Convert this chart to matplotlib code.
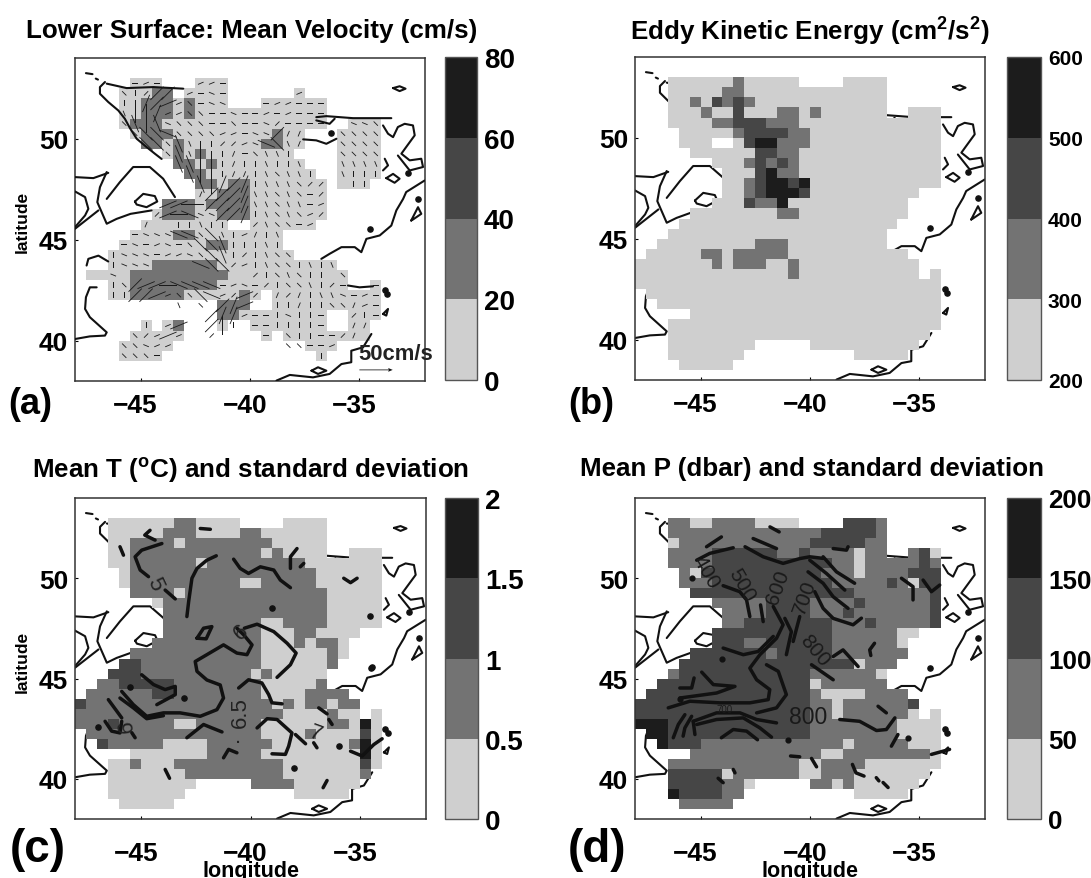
import numpy as np
import matplotlib
matplotlib.use('Agg')
import matplotlib.pyplot as plt
from matplotlib.colors import ListedColormap, BoundaryNorm
from matplotlib.transforms import ScaledTranslation

plt.rcParams['font.family'] = ['Liberation Sans', 'DejaVu Sans']
plt.rcParams['font.weight'] = 'bold'
plt.rcParams['mathtext.fontset'] = 'custom'
plt.rcParams['mathtext.bf'] = 'Liberation Sans:bold'
plt.rcParams['mathtext.rm'] = 'Liberation Sans:bold'

##################################################################################
# Data
##################################################################################
LON_EDGES = np.arange(-48, -31.5, 0.5)
LAT_EDGES = np.arange(54, 37.5, -0.5)

BIN_GRAYS = ['#cfcfcf', '#737373', '#464646', '#1c1c1c']

# gray bin of each 0.5 degree cell, top row first, '.' is no data
VEL_BINS = [
    "", "",
    ".....111.. .111......",
    "....11122. 1111...... 1",
    "....112221 2111...111 111",
    "....112221 2111111111 111",
    "....122211 1111111111 111..111",
    ".....12221 1111111121 1...1111",
    "......2212 1111111221 1...1111",
    "........12 1211111111 ....1111",
    ".........2 2121111111 1...1111",
    ".......... 2211111111 11..1111",
    ".......... .221221111 111.111",
    ".......... .112221111 111",
    "........22 2122221111 111",
    ".......122 2112221111 111",
    "......1111 1111..1111 11",
    ".....11112 211111111.",
    "....111111 112211111.",
    "...1111111 1111111111",
    "...1111222 2221111111 1111",
    ".111122222 2222111111 11111",
    "...1122222 2221111111 11111..1",
    "...1122222 1111121.11 11111111",
    ".......... ...222..11 11111111",
    ".......... ...2211111 111..111",
    "......1.12 ...1..1111 111..11",
    ".....11111 .......1.1 1111111",
    "....11111. .......... .111",
    "....1111.. .......... ..1",
    "",
]

EKE_BINS = [
    "", "",
    "...1111112 11111....1 111",
    "...1111122 1111111111 111",
    "...1121323 2111111111 111",
    "...1112113 1112212111 111..111",
    "...1111223 3322211111 11111111",
    "....111112 3333221111 11111111",
    "....111..1 3442221111 11111111",
    ".....11111 1332211111 11111111",
    ".......111 2323211111 11111111",
    "........11 1342211111 11111111",
    "........11 2344341111 11111111",
    "........11 2344431111 111111",
    ".......111 3224111111 11111",
    ".....11111 1112211111 11111",
    "....111111 1111111111 1111",
    "...1111111 1111111111 111",
    "..11111111 1222111111 111",
    ".111112212 2222111111 11111",
    "1111111212 2211211111 111111",
    "1111111111 1111211111 111111.1",
    "1111111111 1111111111 11111111",
    ".111111111 1111111111 11111111",
    "..11111111 1111111111 11111111",
    ".....11111 1111111111 11111111",
    "...1111111 1111111111 11111111",
    "...1111111 1111111111 1111111",
    "...1111111 1.....1111 111111",
    "...1111111 .......... 11111",
    "....11111.",
    "",
]

TSTD_BINS = [
    "", "",
    "...1111112 21111....1 111",
    "...1111122 2111122111 111",
    "...1122221 2222222211 111",
    "...1122222 2222222121 111..111",
    "...1122222 2122222222 21111111",
    "....122222 2222222222 22111111",
    "....122222 2222211222 22111111",
    ".....22221 2222222222 22211111",
    ".......122 2222222222 22211111",
    "........22 2222222222 22211111",
    "........22 2222222112 22211111",
    "........22 2222222111 221111",
    ".......222 2222222111 21221",
    ".....22222 2222222111 11121",
    "....332222 2222222111 1112",
    "...3332222 2222221211 111",
    "..22333332 2222222111 112",
    ".222222332 2222222111 12222",
    "3222222222 2222222212 122122",
    "2222222222 2222222221 111211.1",
    "2223222221 1222222111 11122141",
    ".222222222 2222222111 12111131",
    "..32222211 1122222211 11111241",
    ".....11111 1122222111 11111141",
    "...1121112 2222222221 11111131",
    "...1111111 2222222221 1111112",
    "...1111111 1.....2222 111111",
    "...1111111 .......... 11111",
    "....11111.",
    "",
]

PSTD_BINS = [
    "", "",
    "...2211222 21111....3 332",
    "...2222222 2222222333 332",
    "...1222222 2222223333 322",
    "...2222333 3332232222 122..231",
    "...2222333 3333333322 12222232",
    "....213333 3333333222 12222333",
    "....222333 3333333322 22232133",
    ".....33333 3333333333 22222223",
    ".......222 2233332222 32222223",
    "........22 2233332223 22222223",
    "........22 3333333322 23222223",
    ".......333 3333333322 222211",
    ".......333 2233333322 22221",
    ".....33333 3323333322 22222",
    "....333333 3333333333 1222",
    "...2333333 3333332222 221",
    "..33333333 3333331222 222",
    ".333333333 3333332111 12222",
    "3333333333 3333332212 222223",
    "3333333333 3333332212 222221.1",
    "4443333333 3333332222 22221111",
    ".443333333 3333332222 22221111",
    "..43332222 2222222221 22222111",
    ".....22222 2222222112 22222221",
    "...2222222 2222211222 21111111",
    "...3333312 2222211222 1111111",
    "...3333322 1.....2212 111111",
    "...4333322 .......... 11111",
    "....22222.",
    "",
]

# orientation of the mean velocity stick in each cell, a=0 deg going up to
# h=157.5 deg in steps of 22.5; capitals are the fast cells
VEL_STICKS = [
    "", "",
    ".....aba.. .bba......",
    "....gecCC. baha...... b",
    "....eeDCBb gahh...abb aaa",
    "....fEEDbb ggaahaabab aaa",
    "....gFEFhg ggaagaahca aaa..hhg",
    ".....gGGHg gggbbahhCd d...gggg",
    "......GGgF feeccbhHGf d...gggg",
    "........gF fEeedagffe ....gggg",
    ".........F FEEedeefee f...ffff",
    ".......... FEEeddefgf fe..feee",
    ".......... .FEDCDefff gcc.eee",
    ".......... .dCCCDffgf gac",
    "........BB AaCCCDffgf fab",
    ".......cBA HhhCCDefgf gbc",
    "......deee efee..cfgg ab",
    ".....ahhhH HgGfebdef.",
    "....ahabha gGGFeeefe.",
    "...ehhhabb hgGFecefgg",
    "...ehhhAAA AHGGcbefgg efef",
    ".aahaAAAAA AAAAaacegf geeeg",
    "...egCBBAH HHHabhaceg gfeca..a",
    "...eeCCBbg gGHbcBc.dc deffhaba",
    ".........f .g.CDB..ee deeggdba",
    ".......... ..CDDbaaeh eea..cea",
    "......e.bB ..CEe.aaee eea..dd",
    ".....gcbBb ..c....a.g eeaacd",
    "....gghbb. .........g gaab",
    "....ggga.. .......... ..e",
    "",
]
STICK_ANGLES = {'a': 0, 'b': 22.5, 'c': 45, 'd': 67.5, 'e': 90, 'f': 112.5, 'g': 135, 'h': 157.5}
SLOW_SPEED = 9
FAST_SPEED = 28

# coastline pieces as (lon, lat)
COAST = [
    [(-47.5, 53.25), (-47.2, 53.2)],
    [(-47.05, 52.98), (-46.95, 52.93)],
    [(-46.63, 52.81), (-46.86, 52.56), (-46.86, 52.23), (-46.48, 51.82), (-46.02, 51.4), (-45.72, 50.99),
     (-45.49, 50.53), (-45.18, 50.0), (-44.73, 49.59), (-44.35, 49.26), (-44.04, 49.0)],
    [(-46.55, 52.73), (-45.64, 52.51), (-44.42, 52.56), (-43.05, 52.48)],
    [(-48, 48.1), (-47.16, 48.05), (-46.48, 48.31)],
    [(-46.55, 48.35), (-46.86, 47.6), (-46.98, 46.86), (-46.55, 45.79), (-46.1, 46.03), (-45.46, 46.28), (-44.5, 46.45)],
    [(-46.55, 47.02), (-45.95, 47.85), (-45.34, 48.6), (-44.58, 48.6), (-43.97, 48.02), (-43.43, 47.11)],
    [(-48, 47.39), (-47.54, 47.11), (-47.39, 46.53), (-47.54, 46.2), (-48, 45.62)],
    [(-46.93, 46.45), (-48, 45.54)],
    [(-45.26, 46.89), (-44.88, 47.27), (-44.35, 47.16), (-44.24, 46.89), (-44.73, 46.61), (-45.18, 46.74), (-45.26, 46.89)],
    [(-47.47, 43.72), (-47.39, 44.05), (-46.93, 44.21), (-46.48, 43.92)],
    [(-47.01, 42.64), (-47.32, 42.64), (-47.5, 42.15), (-47.54, 41.57), (-47.32, 41.16), (-46.55, 40.41),
     (-46.63, 40.25), (-47.32, 40.21), (-48, 40.08)],
    [(-37.19, 38.51), (-36.89, 38.68), (-36.51, 38.51), (-36.89, 38.35), (-37.19, 38.51)],
    [(-38.79, 38.02), (-38.18, 38.3), (-37.12, 38.18), (-36.36, 38.35), (-35.82, 38.84), (-35.37, 38.93),
     (-35.37, 39.5), (-34.83, 39.67), (-34.45, 40.33)],
    [(-36.97, 51.07), (-36.51, 51.12), (-35.29, 51.02), (-33.54, 51.02)],
    [(-36.97, 50.91), (-36.36, 50.74), (-36.13, 50.99)],
    [(-37.57, 49.97), (-36.97, 49.92), (-36.51, 49.75), (-36.05, 50.0)],
    [(-33.46, 52.51), (-33.16, 52.6), (-32.89, 52.48), (-33.16, 52.36), (-33.46, 52.51)],
    [(-33.92, 50.66), (-33.69, 50.25), (-33.46, 50.08), (-33.24, 50.58), (-32.93, 50.74), (-32.55, 50.66),
     (-32.47, 50.17), (-32.86, 49.59), (-33.08, 49.26), (-32.7, 48.93), (-32.17, 49.01), (-32.09, 48.6),
     (-32.7, 48.43), (-33.0, 48.84), (-33.24, 49.17)],
    [(-33.77, 48.05), (-33.46, 48.26), (-33.16, 48.02), (-33.39, 47.82), (-33.77, 48.05)],
    [(-32.02, 47.93), (-32.86, 47.36), (-33.0, 47.02), (-33.31, 46.45), (-33.54, 45.7), (-34.07, 45.21),
     (-34.68, 45.04), (-34.91, 44.38), (-35.21, 44.63), (-35.82, 44.63), (-36.36, 44.3), (-36.74, 44.05)],
    [(-32.63, 45.95), (-32.32, 46.61), (-32.17, 46.28), (-32.55, 46.0), (-32.63, 45.95)],
    [(-33.84, 49.01), (-33.69, 48.68), (-33.92, 48.43)],
    [(-35.52, 42.73), (-34.99, 42.64), (-34.38, 42.69)],
    [(-33.92, 41.32), (-33.69, 41.57), (-33.77, 41.24), (-33.92, 41.32)],
]
COAST_DOTS_LON = [-36.28, -32.78, -32.32, -34.5, -33.85, -33.75]
COAST_DOTS_LAT = [50.28, 48.3, 47.02, 45.54, 42.5, 42.3]

# mean temperature contours
TEMP_LINES = [
    [(-44.58, 52.39), (-44.82, 52.15), (-44.35, 51.9)],
    [(-45.95, 51.57), (-45.79, 51.15)],
    [(-44.04, 51.73), (-44.96, 51.4), (-45.26, 51.07), (-45.03, 50.41), (-44.65, 50.08)],
    [(-43.89, 49.41), (-43.43, 48.97)],
    [(-41.56, 51.12), (-41.99, 50.9), (-42.44, 50.49), (-42.67, 50.0), (-42.82, 48.83), (-42.9, 48.09)],
    [(-40.77, 50.95), (-40.47, 50.49), (-40.09, 50.24), (-39.55, 50.57), (-38.94, 50.41), (-38.64, 49.91), (-38.18, 49.53)],
    [(-37.88, 51.48), (-38.18, 51.07), (-38.18, 50.49)],
    [(-37.57, 50.74), (-37.73, 50.57)],
    [(-42.29, 52.48), (-41.83, 52.44)],
    [(-35.75, 50.0), (-35.44, 49.78), (-35.14, 50.0)],
    [(-42.44, 47.01), (-42.14, 47.51), (-41.76, 47.59), (-42.02, 46.98), (-42.44, 47.01)],
    [(-40.28, 47.51), (-39.7, 47.71), (-38.94, 47.34), (-38.33, 46.76), (-37.92, 46.27), (-38.18, 45.69), (-38.79, 45.06)],
    [(-40.62, 47.51), (-40.31, 47.18), (-39.93, 46.68), (-40.16, 46.19), (-40.62, 46.27), (-41.23, 46.68),
     (-41.99, 46.19), (-42.52, 45.85), (-42.44, 45.36), (-41.99, 44.93), (-41.38, 44.68), (-41.23, 44.03),
     (-41.53, 43.45), (-42.29, 43.12), (-43.21, 43.29), (-43.97, 43.29), (-44.73, 43.12), (-45.34, 43.7), (-45.87, 44.36)],
    [(-45.95, 44.03), (-45.34, 43.54), (-44.73, 43.0), (-43.97, 43.15)],
    [(-44.96, 45.19), (-44.42, 44.7), (-43.89, 44.45), (-43.43, 44.61), (-43.43, 44.2), (-44.12, 43.79), (-44.27, 43.7)],
    [(-46.48, 43.95), (-45.87, 43.04)],
    [(-46.63, 42.87), (-46.33, 42.38), (-45.95, 42.29), (-45.87, 42.87)],
    [(-45.41, 42.3), (-45.26, 42.05)],
    [(-42.9, 42.05), (-42.14, 42.71), (-41.76, 42.54), (-41.3, 42.34)],
    [(-40.54, 44.53), (-40.09, 44.94), (-39.48, 44.78), (-39.17, 44.2), (-39.02, 43.79), (-38.56, 43.74)],
    [(-39.7, 42.54), (-39.24, 43.0), (-38.79, 42.96), (-38.11, 42.29), (-38.26, 41.63), (-38.41, 41.22), (-39.02, 41.25)],
    [(-37.95, 42.21), (-37.49, 41.75)],
    [(-41.23, 41.05), (-41.0, 41.47), (-40.62, 41.3)],
    [(-36.89, 43.54), (-36.51, 43.24)],
    [(-36.43, 42.96), (-36.28, 42.71)],
    [(-37.12, 41.8), (-36.97, 41.55)],
    [(-35.44, 41.38), (-34.91, 41.14), (-34.38, 41.71), (-34.0, 42.0)],
    [(-43.89, 40.47), (-43.69, 40.03)],
    [(-36.51, 39.92), (-36.69, 39.56)],
]
TEMP_DOTS_LON = [-39.02, -34.56, -34.48, -38.0, -35.98, -45.49, -43.05, -46.93]
TEMP_DOTS_LAT = [48.5, 48.14, 45.56, 40.52, 41.63, 44.56, 44.03, 42.6]
TEMP_LABELS = [('5', -44.35, 49.73, -65), ('6', -40.45, 47.35, 40), ('6.5', -40.47, 43.37, 90),
               ('7', -37.04, 42.3, -20), ('6', -45.65, 42.65, 95), ('.', -40.55, 42.1, 0)]

# mean pressure contours
PRES_LINES = [
    [(-44.73, 51.57), (-44.05, 52.06)],
    [(-41.83, 52.56), (-41.41, 52.31)],
    [(-43.51, 51.52), (-44.58, 51.24), (-45.18, 50.9)],
    [(-42.6, 51.98), (-41.53, 51.48)],
    [(-42.97, 51.57), (-42.14, 51.07), (-41.23, 50.74), (-40.47, 50.98), (-40.01, 51.07), (-39.4, 50.99)],
    [(-39.4, 51.07), (-38.79, 50.32), (-37.96, 49.75)],
    [(-40.01, 50.9), (-39.25, 50.24), (-38.41, 49.41)],
    [(-40.09, 50.32), (-39.4, 49.75), (-38.94, 49.08), (-38.26, 48.5)],
    [(-39.78, 49.33), (-39.4, 48.5), (-38.94, 48.0), (-38.03, 47.68), (-37.65, 48.01)],
    [(-43.97, 49.63), (-43.21, 49.33), (-42.9, 48.92), (-42.75, 48.09)],
    [(-42.26, 48.67), (-42.14, 47.84)],
    [(-41.68, 48.59), (-41.23, 47.68), (-41.53, 47.01), (-42.29, 46.19), (-42.75, 45.52), (-42.44, 44.94),
     (-41.84, 44.45), (-41.91, 43.95), (-42.75, 43.79), (-44.12, 43.79), (-45.49, 43.87), (-46.48, 43.54)],
    [(-41.15, 48.0), (-40.85, 47.34), (-41.08, 46.19)],
    [(-40.47, 48.09), (-40.77, 46.85)],
    [(-43.97, 46.52), (-43.05, 46.19), (-42.37, 46.35), (-41.68, 47.1)],
    [(-41.99, 45.69), (-41.45, 45.36), (-41.08, 44.2), (-41.53, 43.54), (-42.44, 43.29)],
    [(-45.95, 44.53), (-45.41, 44.53), (-45.3, 45.03)],
    [(-44.95, 45.32), (-44.42, 44.7), (-43.43, 44.61), (-44.27, 44.28), (-45.95, 44.03)],
    [(-45.72, 43.2), (-46.02, 42.71), (-46.25, 42.05)],
    [(-45.41, 43.12), (-45.72, 42.54), (-45.8, 42.13)],
    [(-45.34, 42.87), (-45.26, 42.21)],
    [(-45.34, 42.87), (-44.27, 43.29), (-43.2, 43.29), (-42.44, 42.96), (-41.53, 42.79)],
    [(-45.18, 42.71), (-44.27, 42.96), (-43.05, 43.04), (-42.29, 42.54), (-41.76, 42.08)],
    [(-44.05, 42.05), (-43.51, 42.46), (-42.9, 42.38), (-42.4, 41.95)],
    [(-39.93, 45.69), (-38.94, 44.94)],
    [(-38.94, 46.1), (-38.49, 46.43), (-37.8, 45.6)],
    [(-38.64, 42.96), (-37.73, 42.87), (-36.96, 42.41), (-36.51, 42.46), (-36.12, 43.04)],
    [(-36.89, 43.62), (-36.51, 43.29)],
    [(-35.98, 42.21), (-36.28, 41.63)],
    [(-34.45, 41.22), (-33.62, 41.47)],
    [(-40.89, 41.14), (-40.47, 41.1)],
    [(-39.93, 41.02), (-39.7, 40.6)],
    [(-38.06, 40.72), (-37.9, 40.3), (-37.53, 40.14)],
    [(-36.97, 40.06), (-36.85, 39.9)],
    [(-36.66, 39.82), (-36.43, 39.57)],
    [(-43.51, 40.47), (-43.43, 40.3)],
    [(-44.2, 40.03), (-43.97, 39.81)],
    [(-38.94, 51.48), (-38.33, 51.4), (-38.26, 51.57)],
    [(-35.82, 50.0), (-35.29, 49.58), (-35.29, 48.92)],
    [(-34.83, 49.91), (-34.45, 49.33), (-34.07, 49.66)],
    [(-37.05, 46.76), (-37.27, 46.43), (-37.22, 46.15)],
]
PRES_DOTS_LON = [-44.0, -41.0, -35.52, -45.95, -45.4]
PRES_DOTS_LAT = [46.0, 41.95, 42.05, 44.0, 50.0]
PRES_LABELS = [('400', -44.73, 50.33, -60, 15), ('500', -43.13, 49.7, -60, 15), ('600', -41.45, 49.58, 70, 15),
               ('700', -40.24, 49.08, 70, 15), ('800', -39.78, 46.43, -50, 15), ('800', -40.09, 43.12, 0, 16.5),
               ('700', -43.9, 43.48, 0, 7)]

TITLES = ['Lower Surface: Mean Velocity (cm/s)', r'Eddy Kinetic Energy (cm$^{\mathbf{2}}$/s$^{\mathbf{2}}$)',
          r'Mean T ($^{\mathbf{o}}$C) and standard deviation', 'Mean P (dbar) and standard deviation']
TITLE_X = [252, 810, 251, 812]
TITLE_Y = [31, 31, 470, 469]

PANEL_NAMES = ['(a)', '(b)', '(c)', '(d)']
PANEL_X = [8, 568, 10, 568]
PANEL_Y = [405, 405, 850, 850]
PANEL_SIZE = [26, 26, 33, 33]

CBAR_TICKS = [[0, 20, 40, 60, 80], [200, 300, 400, 500, 600], [0, 0.5, 1, 1.5, 2], [0, 50, 100, 150, 200]]
CBAR_LABELS = [['0', '20', '40', '60', '80'], ['200', '300', '400', '500', '600'],
               ['0', '0.5', '1', '1.5', '2'], ['0', '50', '100', '150', '200']]
CBAR_SIZE = [20, 15, 20, 18.7]

LON_TICKS = [-45, -40, -35]
LAT_TICKS = [40, 45, 50]
XTICK_PAD = [9, 9, 16, 16]

##################################################################################
# Build grids
##################################################################################
W = 1091.
H = 879.


def to_grid(rows):
    # rows of bin digits into a 32x32 array of bin numbers, nan when empty
    grid = np.full((32, 32), np.nan)
    for i_r, row in enumerate(rows):
        row = row.replace(' ', '')
        for i_c, ch in enumerate(row):
            if ch != '.':
                grid[i_r, i_c] = int(ch)
    return grid


def px_axes(x0, y0, x1, y1):
    return fig.add_axes([x0 / W, 1 - y1 / H, (x1 - x0) / W, (y1 - y0) / H])


all_bins = [VEL_BINS, EKE_BINS, TSTD_BINS, PSTD_BINS]
all_grids = []
for i_p in range(4):
    lo = CBAR_TICKS[i_p][0]
    step = CBAR_TICKS[i_p][1] - CBAR_TICKS[i_p][0]
    # each cell sits in the middle of its colorbar bin
    all_grids.append(lo + (to_grid(all_bins[i_p]) - 0.5) * step)

stick_lon = []
stick_lat = []
stick_u = []
stick_v = []
for i_r, row in enumerate(VEL_STICKS):
    row = row.replace(' ', '')
    for i_c, ch in enumerate(row):
        if ch == '.':
            continue
        ang = np.deg2rad(STICK_ANGLES[ch.lower()])
        spd = FAST_SPEED if ch.isupper() else SLOW_SPEED
        stick_lon.append(LON_EDGES[i_c] + 0.25)
        stick_lat.append(LAT_EDGES[i_r] - 0.25)
        stick_u.append(spd * np.cos(ang))
        stick_v.append(spd * np.sin(ang))

##################################################################################
# Plot
##################################################################################
fig = plt.figure(figsize=(10.91, 8.79), dpi=100)

AX_BOXES = [(75, 59, 425, 382), (635, 58, 985, 381), (75, 499, 426, 820), (635, 499, 985, 820)]
CB_BOXES = [(445, 58, 477, 381), (1007, 58, 1041, 381), (445, 499, 478, 820), (1007, 499, 1041, 820)]

cmap = ListedColormap(BIN_GRAYS)
for i_p in range(4):
    ax = px_axes(*AX_BOXES[i_p])
    norm = BoundaryNorm(CBAR_TICKS[i_p], cmap.N)
    mesh = ax.pcolormesh(LON_EDGES, LAT_EDGES, all_grids[i_p], cmap=cmap, norm=norm, zorder=2)

    # coast sits on top of the cells only in the velocity panel
    zc = 3 if i_p == 0 else 1
    for seg in COAST:
        ax.plot([p[0] for p in seg], [p[1] for p in seg], color='#111111', lw=1.5, zorder=zc,
                solid_capstyle='round')
    ax.scatter(COAST_DOTS_LON, COAST_DOTS_LAT, s=14, color='#111111', zorder=zc)

    ax.set_xlim(-48, -32)
    ax.set_ylim(38, 54)
    ax.set_xticks(LON_TICKS)
    ax.set_yticks(LAT_TICKS)
    ax.set_xticklabels(['\u2212%d' % abs(t) for t in LON_TICKS])
    ax.tick_params(labelsize=19, length=2.5, width=0.8, direction='in')
    ax.tick_params(axis='x', pad=XTICK_PAD[i_p])
    ax.tick_params(axis='y', pad=5)
    # the dash hangs out to the left of the tick in the original
    for lab in ax.get_xticklabels():
        lab.set_transform(lab.get_transform() + ScaledTranslation(-5 / 100., 0, fig.dpi_scale_trans))
    for s in ax.spines.values():
        s.set_linewidth(1.1)
        s.set_color('#333333')

    cax = px_axes(*CB_BOXES[i_p])
    cb = fig.colorbar(mesh, cax=cax, ticks=CBAR_TICKS[i_p], spacing='proportional', drawedges=False)
    cb.ax.set_yticklabels(CBAR_LABELS[i_p])
    cb.ax.tick_params(labelsize=CBAR_SIZE[i_p], length=0, pad=5)
    cb.outline.set_linewidth(1.0)
    cb.outline.set_edgecolor('#555555')

    if i_p == 0:
        ax.quiver(stick_lon, stick_lat, stick_u, stick_v, pivot='mid', angles='uv', scale=525, scale_units='width',
                  width=0.0024, headwidth=1, headlength=0, headaxislength=0, color='#1a1a1a', zorder=4)
        ax.quiver([-35.0], [38.55], [50], [0], angles='uv', scale=525, scale_units='width', width=0.0022,
                  headwidth=5, headlength=6, headaxislength=5, color='#111111', zorder=4)
        ax.text(-35.05, 39.35, '50cm/s', fontsize=15.8, ha='left', va='center', color='#222222', zorder=5,
                clip_on=False)
    if i_p == 2:
        for seg in TEMP_LINES:
            ax.plot([p[0] for p in seg], [p[1] for p in seg], color='#111111', lw=2.5, zorder=4,
                    solid_capstyle='round')
        ax.scatter(TEMP_DOTS_LON, TEMP_DOTS_LAT, s=14, color='#111111', zorder=4)
        for txt, xt, yt, rot in TEMP_LABELS:
            ax.text(xt, yt, txt, fontsize=16, rotation=rot, ha='center', va='center', color='#222222', zorder=5,
                    fontweight='normal')
    if i_p == 3:
        for seg in PRES_LINES:
            ax.plot([p[0] for p in seg], [p[1] for p in seg], color='#111111', lw=2.5, zorder=4,
                    solid_capstyle='round')
        ax.scatter(PRES_DOTS_LON, PRES_DOTS_LAT, s=12, color='#111111', zorder=4)
        for txt, xt, yt, rot, sz in PRES_LABELS:
            ax.text(xt, yt, txt, fontsize=sz, rotation=rot, ha='center', va='center', color='#1a1a1a', zorder=5,
                    fontweight='normal')

    fig.text(TITLE_X[i_p] / W, 1 - TITLE_Y[i_p] / H, TITLES[i_p], fontsize=18.7, ha='center', va='center')
    fig.text(PANEL_X[i_p] / W, 1 - PANEL_Y[i_p] / H, PANEL_NAMES[i_p], fontsize=PANEL_SIZE[i_p], ha='left',
             va='center')

fig.text(22 / W, 1 - 222 / H, 'latitude', fontsize=12.5, rotation=90, ha='center', va='center')
fig.text(22 / W, 1 - 662 / H, 'latitude', fontsize=12.5, rotation=90, ha='center', va='center')
fig.text(251 / W, 1 - 872 / H, 'longitude', fontsize=15.5, ha='center', va='center')
fig.text(810 / W, 1 - 872 / H, 'longitude', fontsize=15.5, ha='center', va='center')

fig.savefig('out.png', dpi=100)
